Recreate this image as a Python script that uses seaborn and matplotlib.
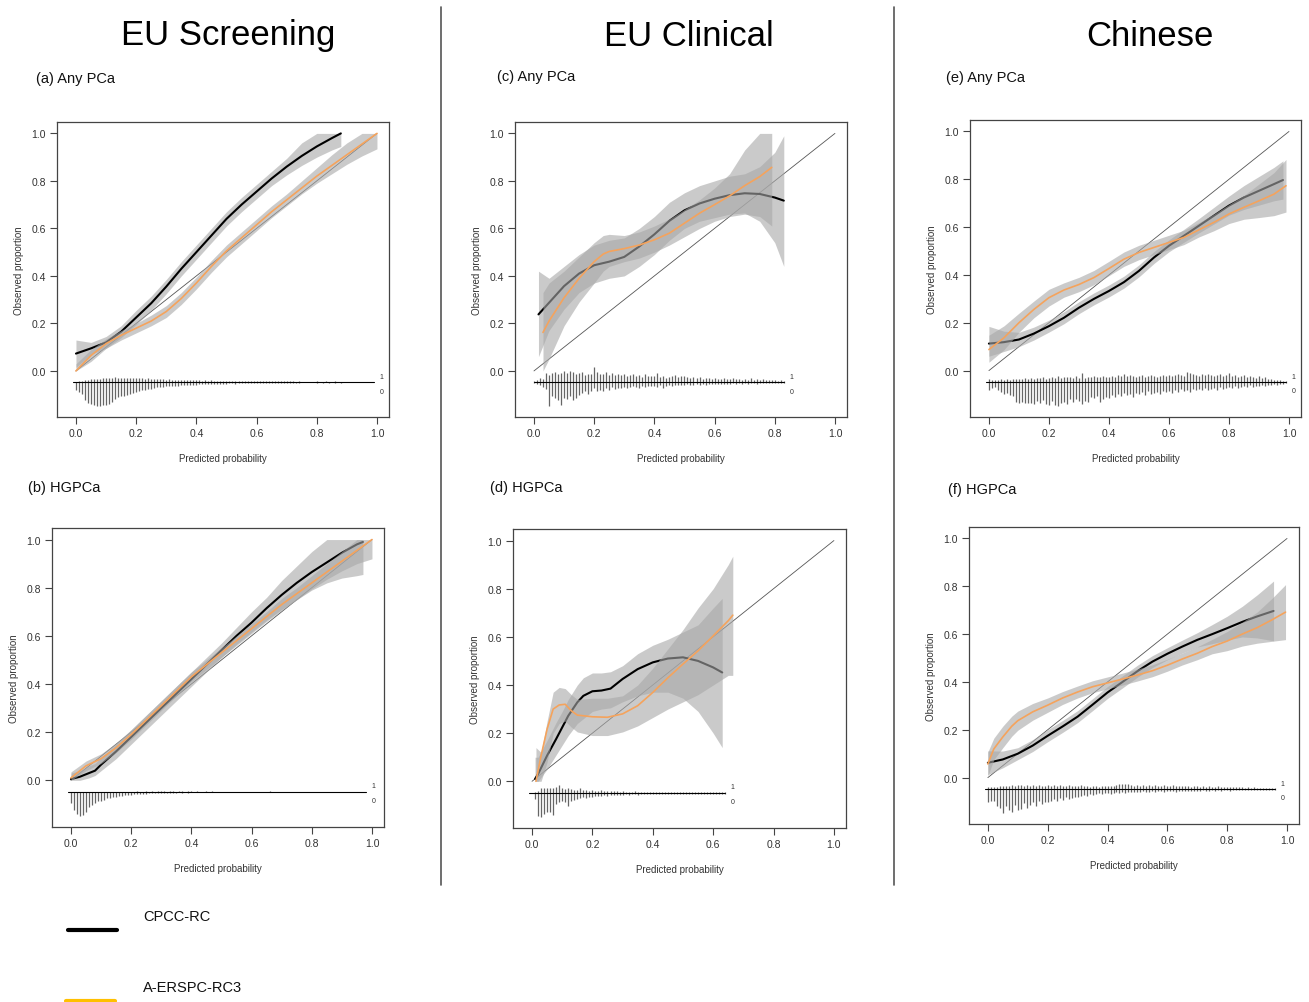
import numpy as np
import matplotlib
matplotlib.use("Agg")
import matplotlib.pyplot as plt
import seaborn as sns
from matplotlib.lines import Line2D

sns.set_theme(style="ticks")
plt.rcParams['font.family'] = ['Liberation Sans', 'DejaVu Sans']

# ---------------- data ----------------
col_titles = ['EU Screening', 'EU Clinical', 'Chinese']
panel_labels = ['(a) Any PCa', '(b) HGPCa', '(c) Any PCa', '(d) HGPCa', '(e) Any PCa', '(f) HGPCa']
legend_names = ['CPCC-RC', 'A-ERSPC-RC3']
tick_vals = [0.0, 0.2, 0.4, 0.6, 0.8, 1.0]
tick_text = ['0.0', '0.2', '0.4', '0.6', '0.8', '1.0']

# (a) EU Screening, any PCa
a_cpcc_x = [0.0, 0.05, 0.1, 0.15, 0.2, 0.25, 0.3, 0.35, 0.4, 0.45, 0.5, 0.55, 0.6, 0.65, 0.7, 0.75, 0.8, 0.85, 0.88]
a_cpcc_y = [0.073, 0.095, 0.12, 0.165, 0.225, 0.285, 0.355, 0.43, 0.50, 0.57, 0.64, 0.70, 0.755, 0.81, 0.86, 0.905, 0.945, 0.98, 1.0]
a_cpcc_lo = [0.015, 0.07, 0.095, 0.14, 0.195, 0.255, 0.325, 0.40, 0.47, 0.54, 0.61, 0.67, 0.725, 0.78, 0.825, 0.865, 0.9, 0.93, 0.945]
a_cpcc_hi = [0.13, 0.12, 0.145, 0.19, 0.255, 0.315, 0.385, 0.46, 0.53, 0.60, 0.67, 0.73, 0.785, 0.84, 0.895, 0.96, 1.0, 1.0, 1.0]
a_ersp_x = [0.0, 0.05, 0.1, 0.15, 0.2, 0.25, 0.3, 0.35, 0.4, 0.45, 0.5, 0.55, 0.6, 0.65, 0.7, 0.75, 0.8, 0.85, 0.9, 0.95, 1.0]
a_ersp_y = [0.0, 0.065, 0.115, 0.15, 0.18, 0.21, 0.25, 0.305, 0.37, 0.44, 0.505, 0.56, 0.615, 0.67, 0.72, 0.77, 0.82, 0.865, 0.91, 0.955, 1.0]
a_ersp_lo = [0.0, 0.04, 0.095, 0.13, 0.16, 0.19, 0.225, 0.28, 0.345, 0.415, 0.48, 0.535, 0.59, 0.645, 0.695, 0.745, 0.79, 0.83, 0.87, 0.905, 0.935]
a_ersp_hi = [0.03, 0.09, 0.135, 0.17, 0.2, 0.235, 0.275, 0.33, 0.395, 0.465, 0.53, 0.585, 0.64, 0.695, 0.745, 0.8, 0.855, 0.91, 0.96, 1.0, 1.0]
a_rug_span = (-0.01, 0.99)
a_rug_0 = [8, 10, 12, 18, 21, 22, 23, 24, 24, 23,
           23, 22, 20, 17, 15, 14, 14, 13, 12, 11,
           10, 9, 8, 8, 7, 7, 6, 5, 5, 5,
           4, 4, 4, 4, 4, 3, 3, 3, 3, 3,
           3, 2, 2, 2, 2, 2, 2, 2, 2, 2,
           2, 1, 1, 2, 1, 1, 1, 1, 1, 1,
           1, 1, 1, 1, 1, 1, 1, 1, 1, 1,
           1, 1, 1, 1, 1, 0, 0, 0, 0, 0,
           1, 0, 1, 0, 1, 0, 1, 0, 1, 0]
a_rug_1 = [0, 1, 1, 2, 2, 3, 3, 3, 3, 4,
           4, 4, 4, 5, 4, 4, 4, 4, 4, 4,
           4, 4, 4, 3, 4, 3, 3, 3, 3, 3,
           2, 3, 2, 2, 2, 2, 2, 2, 2, 2,
           2, 2, 1, 2, 1, 2, 1, 1, 1, 1,
           1, 1, 1, 1, 1, 1, 1, 1, 1, 1,
           1, 1, 1, 1, 1, 1, 1, 1, 1, 1,
           1, 1, 1, 0, 1, 0, 0, 0, 0, 0,
           1, 0, 0, 1, 0, 0, 1, 0, 0, 0]

# (b) EU Screening, HGPCa
b_cpcc_x = [0.0, 0.03, 0.06, 0.08, 0.1, 0.15, 0.2, 0.25, 0.3, 0.35, 0.4, 0.45, 0.5, 0.55, 0.6, 0.65, 0.7, 0.75, 0.8, 0.85, 0.9, 0.95, 0.97]
b_cpcc_y = [0.005, 0.015, 0.03, 0.04, 0.065, 0.12, 0.18, 0.24, 0.30, 0.36, 0.42, 0.48, 0.54, 0.60, 0.655, 0.715, 0.77, 0.82, 0.865, 0.905, 0.945, 0.98, 0.99]
b_cpcc_lo = [0.0, 0.0, 0.01, 0.02, 0.04, 0.09, 0.15, 0.21, 0.27, 0.33, 0.39, 0.45, 0.51, 0.565, 0.615, 0.665, 0.71, 0.75, 0.79, 0.82, 0.84, 0.85, 0.855]
b_cpcc_hi = [0.03, 0.04, 0.06, 0.07, 0.095, 0.15, 0.21, 0.27, 0.33, 0.39, 0.45, 0.51, 0.57, 0.635, 0.70, 0.76, 0.83, 0.89, 0.95, 1.0, 1.0, 1.0, 1.0]
b_ersp_x = [0.0, 0.05, 0.1, 0.15, 0.2, 0.25, 0.3, 0.35, 0.4, 0.45, 0.5, 0.55, 0.6, 0.65, 0.7, 0.75, 0.8, 0.85, 0.9, 0.95, 1.0]
b_ersp_y = [0.01, 0.06, 0.09, 0.135, 0.19, 0.25, 0.31, 0.37, 0.43, 0.48, 0.53, 0.58, 0.63, 0.68, 0.73, 0.775, 0.82, 0.865, 0.91, 0.955, 1.0]
b_ersp_lo = [0.0, 0.04, 0.07, 0.115, 0.17, 0.23, 0.29, 0.35, 0.41, 0.46, 0.51, 0.56, 0.61, 0.66, 0.705, 0.75, 0.795, 0.835, 0.87, 0.9, 0.92]
b_ersp_hi = [0.035, 0.08, 0.11, 0.155, 0.21, 0.27, 0.33, 0.39, 0.45, 0.5, 0.55, 0.6, 0.65, 0.70, 0.755, 0.80, 0.85, 0.9, 0.95, 1.0, 1.0]
b_rug_span = (-0.01, 0.98)
b_rug_0 = [12, 19, 23, 25, 24, 21, 16, 14, 12, 10,
           9, 8, 6, 6, 5, 5, 4, 4, 3, 3,
           3, 2, 2, 2, 2, 2, 1, 1, 1, 1,
           1, 1, 1, 1, 1, 1, 0, 1, 0, 1]
b_rug_1 = [0, 0, 0, 0, 0, 0, 0, 0, 0, 0,
           0, 0, 0, 0, 0, 0, 0, 0, 0, 0,
           0, 0, 1, 0, 0, 1, 0, 1, 0, 1,
           1, 1, 0, 1, 1, 0, 1, 1, 0, 1,
           1, 0, 1, 0, 0, 1, 0, 1, 0, 0,
           0, 0, 0, 0, 0, 0, 0, 0, 0, 0,
           0, 0, 0, 0, 0, 0, 1]

# (c) EU Clinical, any PCa
c_cpcc_x = [0.015, 0.05, 0.1, 0.15, 0.2, 0.25, 0.3, 0.35, 0.4, 0.45, 0.5, 0.55, 0.6, 0.65, 0.7, 0.75, 0.8, 0.83]
c_cpcc_y = [0.238, 0.287, 0.357, 0.41, 0.445, 0.46, 0.48, 0.524, 0.575, 0.632, 0.676, 0.705, 0.725, 0.74, 0.748, 0.745, 0.73, 0.717]
c_cpcc_lo = [0.06, 0.17, 0.26, 0.33, 0.37, 0.39, 0.40, 0.44, 0.49, 0.55, 0.6, 0.63, 0.645, 0.66, 0.665, 0.63, 0.54, 0.44]
c_cpcc_hi = [0.42, 0.39, 0.44, 0.49, 0.53, 0.55, 0.56, 0.6, 0.65, 0.71, 0.75, 0.78, 0.80, 0.82, 0.83, 0.86, 0.92, 0.99]
c_ersp_x = [0.03, 0.05, 0.1, 0.15, 0.2, 0.23, 0.25, 0.3, 0.35, 0.4, 0.45, 0.5, 0.55, 0.6, 0.65, 0.7, 0.75, 0.79]
c_ersp_y = [0.162, 0.21, 0.308, 0.39, 0.46, 0.492, 0.503, 0.515, 0.53, 0.552, 0.58, 0.622, 0.664, 0.70, 0.737, 0.78, 0.818, 0.857]
c_ersp_lo = [0.0, 0.05, 0.19, 0.29, 0.37, 0.42, 0.44, 0.46, 0.475, 0.5, 0.53, 0.565, 0.60, 0.63, 0.65, 0.66, 0.65, 0.61]
c_ersp_hi = [0.33, 0.37, 0.42, 0.48, 0.54, 0.57, 0.575, 0.57, 0.585, 0.61, 0.64, 0.68, 0.72, 0.77, 0.83, 0.93, 1.0, 1.0]
c_rug_span = (0.0, 0.83)
c_rug_0 = [1, 2, 3, 5, 7, 24, 14, 16, 18, 23,
           16, 17, 14, 18, 16, 13, 11, 9, 12, 9,
           6, 9, 8, 9, 6, 8, 5, 7, 6, 6,
           5, 6, 5, 4, 5, 6, 4, 5, 4, 4,
           4, 5, 3, 6, 4, 3, 4, 3, 3, 3,
           3, 2, 3, 3, 2, 3, 2, 3, 2, 2,
           2, 2, 2, 2, 2, 2, 1, 2, 1, 2,
           1, 2, 1, 1, 2, 1, 1, 1, 1, 1,
           1, 1, 1, 1]
c_rug_1 = [1, 2, 4, 3, 9, 7, 9, 10, 8, 9,
           11, 9, 11, 10, 8, 9, 10, 7, 8, 8,
           15, 10, 8, 8, 10, 7, 9, 7, 8, 7,
           8, 6, 7, 8, 6, 7, 5, 8, 6, 6,
           6, 9, 5, 6, 4, 5, 6, 7, 5, 6,
           6, 5, 4, 5, 4, 5, 3, 4, 4, 3,
           4, 3, 3, 4, 3, 3, 4, 3, 3, 2,
           3, 2, 4, 2, 3, 2, 3, 2, 2, 2,
           2, 1, 2, 1]

# (d) EU Clinical, HGPCa
d_cpcc_x = [0.01, 0.02, 0.05, 0.08, 0.1, 0.12, 0.15, 0.17, 0.2, 0.23, 0.26, 0.3, 0.35, 0.4, 0.45, 0.5, 0.55, 0.6, 0.63]
d_cpcc_y = [0.01, 0.03, 0.107, 0.176, 0.224, 0.272, 0.328, 0.355, 0.374, 0.377, 0.385, 0.425, 0.466, 0.494, 0.51, 0.515, 0.50, 0.473, 0.452]
d_cpcc_lo = [0.0, 0.0, 0.05, 0.11, 0.15, 0.19, 0.24, 0.26, 0.29, 0.30, 0.305, 0.33, 0.355, 0.37, 0.37, 0.345, 0.29, 0.2, 0.14]
d_cpcc_hi = [0.1, 0.1, 0.17, 0.245, 0.29, 0.34, 0.40, 0.43, 0.45, 0.45, 0.455, 0.48, 0.53, 0.565, 0.59, 0.62, 0.65, 0.72, 0.76]
d_ersp_x = [0.013, 0.03, 0.05, 0.07, 0.09, 0.11, 0.13, 0.15, 0.2, 0.25, 0.3, 0.35, 0.4, 0.45, 0.5, 0.55, 0.6, 0.65, 0.665]
d_ersp_y = [0.0, 0.106, 0.217, 0.30, 0.317, 0.32, 0.293, 0.275, 0.268, 0.266, 0.28, 0.314, 0.369, 0.43, 0.487, 0.542, 0.604, 0.667, 0.69]
d_ersp_lo = [0.0, 0.0, 0.08, 0.2, 0.24, 0.25, 0.225, 0.205, 0.19, 0.19, 0.205, 0.23, 0.265, 0.3, 0.33, 0.36, 0.40, 0.44, 0.44]
d_ersp_hi = [0.14, 0.12, 0.25, 0.37, 0.39, 0.385, 0.36, 0.34, 0.345, 0.345, 0.355, 0.4, 0.47, 0.55, 0.63, 0.72, 0.8, 0.9, 0.935]
d_rug_span = (-0.01, 0.64)
d_rug_0 = [0, 6, 23, 24, 21, 19, 19, 22, 11, 9,
           8, 9, 13, 8, 7, 6, 5, 4, 5, 4,
           4, 3, 3, 3, 2, 3, 2, 2, 2, 2,
           2, 1, 2, 1, 1, 2, 1, 1, 1, 1,
           1, 1, 1, 1, 1, 1, 1, 1, 1, 1,
           1, 1, 1, 1, 1, 1, 1, 1, 1, 1,
           1, 1, 1, 1, 1]
d_rug_1 = [0, 1, 2, 5, 5, 5, 5, 5, 6, 8,
           5, 4, 5, 4, 3, 3, 5, 3, 3, 2,
           3, 2, 2, 3, 2, 2, 2, 2, 2, 1,
           2, 1, 1, 1, 2, 1, 1, 1, 1, 1,
           1, 1, 1, 1, 1, 1, 1, 1, 1, 1,
           1, 1, 1, 1, 1, 1, 1, 1, 1, 1,
           1, 1, 1, 1, 1]

# (e) Chinese, any PCa
e_cpcc_x = [0.0, 0.05, 0.1, 0.15, 0.2, 0.25, 0.3, 0.35, 0.4, 0.45, 0.5, 0.55, 0.6, 0.65, 0.7, 0.75, 0.8, 0.85, 0.9, 0.95, 0.98]
e_cpcc_y = [0.113, 0.119, 0.13, 0.155, 0.186, 0.221, 0.263, 0.30, 0.333, 0.37, 0.417, 0.473, 0.522, 0.564, 0.606, 0.648, 0.69, 0.724, 0.752, 0.78, 0.797]
e_cpcc_lo = [0.06, 0.08, 0.10, 0.128, 0.161, 0.196, 0.238, 0.275, 0.308, 0.345, 0.392, 0.448, 0.497, 0.537, 0.576, 0.613, 0.65, 0.674, 0.692, 0.71, 0.717]
e_cpcc_hi = [0.185, 0.165, 0.16, 0.182, 0.211, 0.246, 0.288, 0.325, 0.358, 0.395, 0.442, 0.498, 0.547, 0.591, 0.636, 0.683, 0.73, 0.774, 0.812, 0.85, 0.877]
e_ersp_x = [0.0, 0.05, 0.1, 0.15, 0.2, 0.25, 0.3, 0.35, 0.4, 0.45, 0.5, 0.55, 0.6, 0.65, 0.7, 0.75, 0.8, 0.85, 0.9, 0.95, 0.99]
e_ersp_y = [0.088, 0.137, 0.2, 0.256, 0.305, 0.337, 0.36, 0.389, 0.427, 0.466, 0.494, 0.515, 0.536, 0.557, 0.589, 0.62, 0.655, 0.683, 0.71, 0.738, 0.773]
e_ersp_lo = [0.035, 0.087, 0.16, 0.221, 0.27, 0.307, 0.33, 0.359, 0.397, 0.436, 0.464, 0.485, 0.506, 0.527, 0.559, 0.585, 0.615, 0.633, 0.64, 0.648, 0.663]
e_ersp_hi = [0.148, 0.187, 0.24, 0.291, 0.34, 0.367, 0.39, 0.419, 0.457, 0.496, 0.524, 0.545, 0.566, 0.587, 0.619, 0.655, 0.695, 0.733, 0.78, 0.828, 0.883]
e_rug_span = (-0.01, 0.99)
e_rug_0 = [8, 6, 5, 8, 10, 12, 11, 13, 14, 20,
           21, 20, 21, 21, 21, 22, 19, 21, 18, 22,
           23, 19, 23, 24, 21, 20, 22, 17, 20, 17,
           19, 22, 19, 20, 15, 16, 14, 20, 17, 15,
           16, 13, 15, 12, 14, 11, 13, 12, 15, 11,
           12, 10, 13, 9, 12, 11, 10, 12, 9, 10,
           9, 11, 8, 10, 7, 9, 8, 10, 7, 8,
           7, 8, 6, 8, 7, 6, 8, 5, 7, 6,
           5, 6, 4, 6, 5, 4, 5, 3, 5, 4,
           4, 3, 4, 3, 3, 2, 3, 2, 2, 1]
e_rug_1 = [3, 2, 2, 2, 3, 2, 3, 2, 3, 3,
           3, 3, 4, 3, 4, 3, 4, 4, 5, 3,
           4, 5, 4, 6, 4, 5, 5, 5, 4, 6,
           4, 9, 4, 5, 5, 6, 5, 5, 6, 5,
           5, 6, 5, 7, 6, 8, 6, 7, 6, 5,
           6, 7, 5, 6, 7, 6, 5, 6, 7, 6,
           7, 6, 7, 8, 7, 6, 10, 9, 8, 7,
           6, 8, 7, 8, 7, 6, 7, 8, 6, 7,
           9, 6, 7, 5, 6, 7, 5, 6, 5, 4,
           6, 4, 5, 3, 3, 2, 2, 2, 1, 1]

# (f) Chinese, HGPCa
f_cpcc_x = [0.0, 0.05, 0.1, 0.15, 0.2, 0.25, 0.3, 0.35, 0.4, 0.45, 0.5, 0.55, 0.6, 0.65, 0.7, 0.75, 0.8, 0.85, 0.9, 0.955]
f_cpcc_y = [0.062, 0.076, 0.1, 0.134, 0.175, 0.214, 0.255, 0.305, 0.356, 0.4, 0.445, 0.485, 0.518, 0.548, 0.576, 0.6, 0.625, 0.651, 0.674, 0.697]
f_cpcc_lo = [0.012, 0.041, 0.075, 0.109, 0.15, 0.189, 0.23, 0.28, 0.331, 0.375, 0.42, 0.46, 0.493, 0.521, 0.546, 0.56, 0.575, 0.588, 0.584, 0.572]
f_cpcc_hi = [0.112, 0.111, 0.125, 0.159, 0.2, 0.239, 0.28, 0.33, 0.381, 0.425, 0.47, 0.51, 0.543, 0.575, 0.606, 0.64, 0.675, 0.716, 0.764, 0.822]
f_ersp_x = [0.0, 0.02, 0.05, 0.08, 0.1, 0.15, 0.2, 0.25, 0.3, 0.35, 0.4, 0.45, 0.5, 0.55, 0.6, 0.65, 0.7, 0.75, 0.8, 0.85, 0.9, 0.95, 0.995]
f_ersp_y = [0.057, 0.12, 0.17, 0.215, 0.238, 0.275, 0.303, 0.333, 0.358, 0.38, 0.396, 0.412, 0.429, 0.447, 0.47, 0.496, 0.52, 0.548, 0.571, 0.6, 0.627, 0.66, 0.692]
f_ersp_lo = [0.007, 0.075, 0.125, 0.173, 0.198, 0.24, 0.273, 0.306, 0.333, 0.355, 0.371, 0.387, 0.404, 0.422, 0.445, 0.471, 0.493, 0.518, 0.531, 0.55, 0.562, 0.57, 0.577]
f_ersp_hi = [0.107, 0.165, 0.215, 0.257, 0.278, 0.31, 0.333, 0.36, 0.383, 0.405, 0.421, 0.437, 0.454, 0.472, 0.495, 0.521, 0.547, 0.578, 0.611, 0.65, 0.692, 0.75, 0.807]
f_rug_span = (-0.01, 0.96)
f_rug_0 = [13, 12, 12, 18, 20, 25, 18, 22, 24, 17,
           22, 21, 15, 20, 17, 14, 18, 12, 16, 14,
           14, 12, 10, 12, 9, 11, 8, 10, 9, 8,
           8, 7, 6, 7, 5, 6, 5, 4, 5, 4,
           4, 5, 4, 3, 4, 3, 4, 3, 3, 3,
           3, 3, 2, 3, 3, 2, 3, 2, 2, 3,
           2, 2, 2, 3, 2, 2, 2, 2, 2, 2,
           2, 2, 1, 2, 2, 1, 2, 1, 2, 1,
           1, 2, 1, 1, 1, 1, 1, 1, 1, 1,
           1, 1, 1, 1, 1, 1, 1]
f_rug_1 = [2, 2, 2, 2, 3, 3, 3, 3, 4, 3,
           4, 4, 3, 4, 3, 4, 3, 4, 3, 3,
           4, 3, 4, 3, 4, 3, 3, 4, 3, 3,
           3, 4, 3, 3, 2, 3, 3, 2, 3, 3,
           3, 3, 3, 4, 5, 5, 5, 5, 4, 3,
           4, 3, 4, 3, 4, 3, 4, 3, 3, 4,
           3, 3, 4, 3, 3, 3, 3, 3, 2, 3,
           3, 2, 3, 2, 3, 2, 2, 3, 2, 2,
           2, 2, 2, 2, 2, 2, 1, 2, 1, 2,
           1, 1, 1, 1, 1, 1, 1]

# ---------------- layout ----------------
W, H = 1309, 1003
# axes boxes in pixels: left, top, right, bottom
boxes = [(57, 123, 389, 418), (52, 529, 384, 828),
         (515, 123, 847, 418), (513, 530, 846, 829),
         (970, 121, 1301, 418), (969, 528, 1299, 825)]
label_pos = [(36, 79), (28, 488), (497, 77), (490, 488), (946, 78), (948, 490)]
title_x = [228, 689, 1150]

panels = [
    (a_cpcc_x, a_cpcc_y, a_cpcc_lo, a_cpcc_hi, a_ersp_x, a_ersp_y, a_ersp_lo, a_ersp_hi, a_rug_span, a_rug_0, a_rug_1),
    (b_cpcc_x, b_cpcc_y, b_cpcc_lo, b_cpcc_hi, b_ersp_x, b_ersp_y, b_ersp_lo, b_ersp_hi, b_rug_span, b_rug_0, b_rug_1),
    (c_cpcc_x, c_cpcc_y, c_cpcc_lo, c_cpcc_hi, c_ersp_x, c_ersp_y, c_ersp_lo, c_ersp_hi, c_rug_span, c_rug_0, c_rug_1),
    (d_cpcc_x, d_cpcc_y, d_cpcc_lo, d_cpcc_hi, d_ersp_x, d_ersp_y, d_ersp_lo, d_ersp_hi, d_rug_span, d_rug_0, d_rug_1),
    (e_cpcc_x, e_cpcc_y, e_cpcc_lo, e_cpcc_hi, e_ersp_x, e_ersp_y, e_ersp_lo, e_ersp_hi, e_rug_span, e_rug_0, e_rug_1),
    (f_cpcc_x, f_cpcc_y, f_cpcc_lo, f_cpcc_hi, f_ersp_x, f_ersp_y, f_ersp_lo, f_ersp_hi, f_rug_span, f_rug_0, f_rug_1),
]

band_col = '#A8A8A8'
band_alpha = 0.6
orange = '#F5A35C'
text_col = '#333333'
rug_base = -0.048

fig = plt.figure(figsize=(W / 100, H / 100), dpi=100)

for i, p in enumerate(panels):
    bx, by, blo, bhi, ox, oy, olo, ohi, span, rug0, rug1 = p
    l, t, r, b = boxes[i]
    ax = fig.add_axes([l / W, 1 - b / H, (r - l) / W, (b - t) / H])

    # perfect calibration line
    sns.lineplot(x=[0.0, 1.0], y=[0.0, 1.0], ax=ax, color='#555555', linewidth=0.6, zorder=0.5)

    # CPCC-RC: band then curve
    ax.fill_between(bx, blo, bhi, color=band_col, alpha=band_alpha, linewidth=0, zorder=1)
    sns.lineplot(x=bx, y=by, ax=ax, color='black', linewidth=1.5, estimator=None, sort=False, zorder=2)
    # A-ERSPC-RC3: band then curve (its band greys out the black curve underneath)
    ax.fill_between(ox, olo, ohi, color=band_col, alpha=band_alpha, linewidth=0, zorder=3)
    sns.lineplot(x=ox, y=oy, ax=ax, color=orange, linewidth=1.2, estimator=None, sort=False, zorder=4)

    # rug histogram of outcomes (1 up, 0 down)
    r0 = np.array(rug0, dtype=float)
    r1 = np.array(rug1, dtype=float)
    scale = 0.1 / max(r0.max(), r1.max())
    x0 = np.arange(len(r0)) * 0.01
    x1 = np.arange(len(r1)) * 0.01
    ax.vlines(x1[r1 > 0], rug_base, rug_base + r1[r1 > 0] * scale, color='#666666', linewidth=0.9)
    ax.vlines(x0[r0 > 0], rug_base - r0[r0 > 0] * scale, rug_base, color='#666666', linewidth=0.9)
    ax.plot(list(span), [rug_base, rug_base], color='black', linewidth=0.8)
    ax.text(span[1] + 0.025, rug_base + 0.025, '1', fontsize=5, color=text_col, ha='center', va='center')
    ax.text(span[1] + 0.025, rug_base - 0.037, '0', fontsize=5, color=text_col, ha='center', va='center')

    ax.set_xlim(-0.063, 1.04)
    ax.set_ylim(-0.194, 1.048)
    ax.set_xticks(tick_vals)
    ax.set_xticklabels(tick_text)
    ax.set_yticks(tick_vals)
    ax.set_yticklabels(tick_text)
    ax.tick_params(labelsize=7.5, length=5, width=0.8, color='#444444',
                   labelcolor=text_col, direction='out', pad=3)
    for s in ax.spines.values():
        s.set_visible(True)
        s.set_color('#444444')
        s.set_linewidth(0.9)
    ax.set_xlabel('Predicted probability', fontsize=7, color=text_col, labelpad=11)
    ax.set_ylabel('Observed proportion', fontsize=7, color=text_col, labelpad=5)

    lx, ly = label_pos[i]
    fig.text(lx / W, 1 - ly / H, panel_labels[i], fontsize=10.5, color='#111111',
             ha='left', va='center')

for j, ttl in enumerate(col_titles):
    fig.text(title_x[j] / W, 1 - 36 / H, ttl, fontsize=25, color='black', ha='center', va='center')

# column separators
for sx in [441, 894]:
    fig.add_artist(Line2D([sx / W, sx / W], [1 - 8 / H, 1 - 886 / H], color='#555555', linewidth=1.2))

# legend
fig.add_artist(Line2D([68 / W, 117 / W], [1 - 931 / H, 1 - 931 / H], color='black', linewidth=3))
fig.text(143 / W, 1 - 917 / H, legend_names[0], fontsize=10.5, color='#111111', ha='left', va='center')
fig.add_artist(Line2D([66 / W, 115 / W], [1 - 1002 / H, 1 - 1002 / H], color='#FFC000', linewidth=3))
fig.text(143 / W, 1 - 988 / H, legend_names[1], fontsize=10.5, color='#111111', ha='left', va='center')

fig.savefig('out.png', dpi=100)
